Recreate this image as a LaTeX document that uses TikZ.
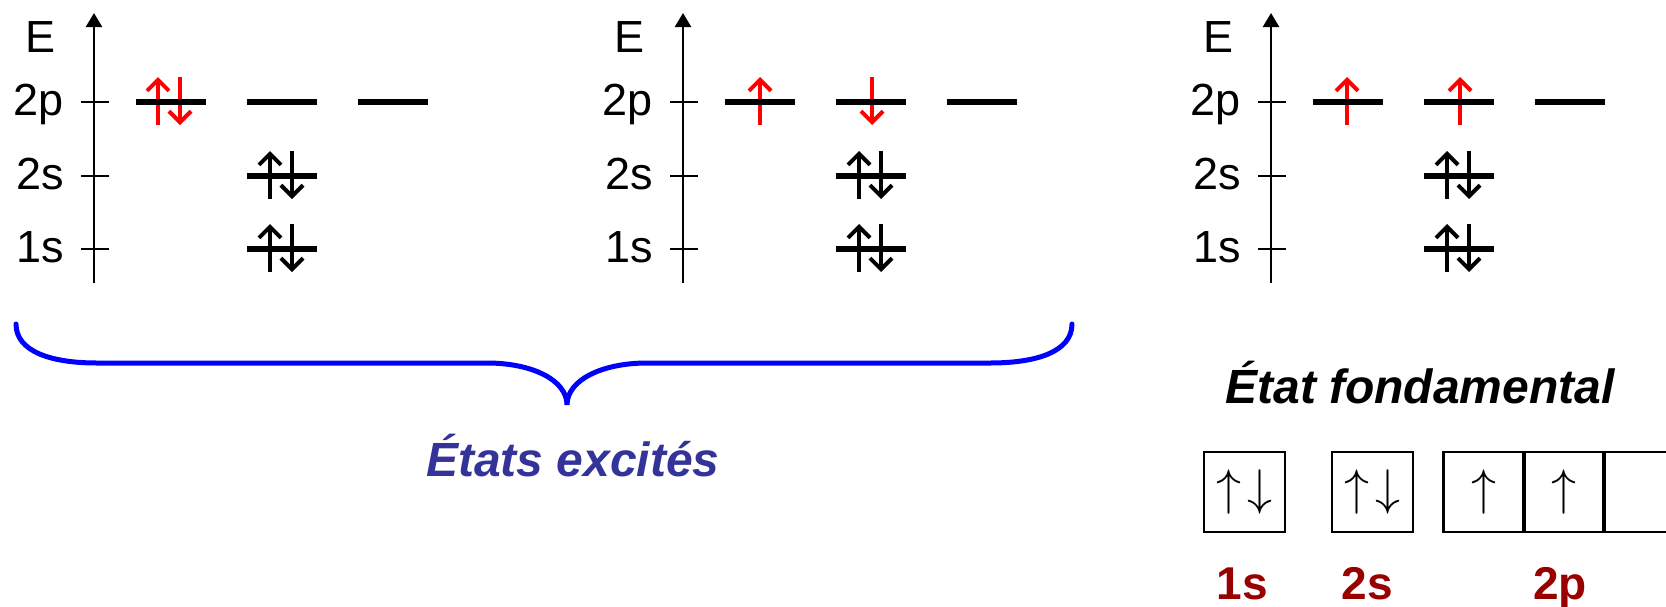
\RequirePackage{fix-cm}
\documentclass[tikz,border=0pt]{standalone}
\usepackage{fontspec}
\setmainfont{Liberation Sans}
\usetikzlibrary{arrows.meta}
\definecolor{braceblue}{RGB}{0,0,255}
\definecolor{textblue}{RGB}{51,51,153}
\definecolor{darkred}{RGB}{153,0,0}
\definecolor{spinred}{RGB}{255,0,0}
\begin{document}
\begin{tikzpicture}[x=1pt,y=-1pt,
  axisline/.style={line width=2.5pt,-{Triangle[length=14pt,width=16pt]}},
  tickline/.style={line width=2.5pt},
  levelline/.style={line width=6pt},
  spinarrow/.style={line width=4pt,-{Straight Barb[length=11pt,width=22pt]}},
  axlabel/.style={font=\fontsize{45}{54}\selectfont, inner sep=0pt, anchor=base east},
  elabel/.style={font=\fontsize{45}{54}\selectfont, inner sep=0pt, anchor=base},
  title/.style={font=\fontsize{48}{56}\selectfont\bfseries\itshape, inner sep=0pt, anchor=base},
  obox/.style={draw, line width=2.5pt, minimum width=81pt, minimum height=80pt, inner sep=0pt, font=\fontsize{50}{56}\selectfont},
  orblabel/.style={font=\fontsize{46}{54}\selectfont\bfseries, text=darkred, inner sep=0pt, anchor=base},
  bracestyle/.style={draw=braceblue, line width=5pt, line cap=round}
]
\useasboundingbox (0,0) rectangle (1666,606);

\foreach \d/\ox in {1/0,2/589,3/1177}{
  \begin{scope}[xshift=\ox pt]
    % axis
    \coordinate (ax\d b) at (94,283);
    \coordinate (ax\d t) at (94,13);
    \draw[axisline] (ax\d b) -- (ax\d t);
    \node[elabel] (E\d) at (41,52) {E};
    \foreach \n/\L in {2p/102,2s/176,1s/249}{
      \coordinate (tk\d\n a) at (81,\L);
      \coordinate (tk\d\n b) at (109,\L);
      \draw[tickline] (tk\d\n a) -- (tk\d\n b);
      \node[axlabel] (lab\d\n) at (64,\L+13) {\n};
    }
    % black paired spins on 2s and 1s
    \foreach \n/\L in {2s/176,1s/249}{
      \coordinate (su\d\n a) at (270,\L+23);
      \coordinate (su\d\n b) at (270,\L-25);
      \coordinate (sd\d\n a) at (292,\L-25);
      \coordinate (sd\d\n b) at (292,\L+23);
      \draw[spinarrow] (su\d\n a) -- (su\d\n b);
      \draw[spinarrow] (sd\d\n a) -- (sd\d\n b);
    }
  \end{scope}
}

% red spins
% diagram 1 : pair on first 2p level
\coordinate (r1ua) at (158,125); \coordinate (r1ub) at (158,77);
\coordinate (r1da) at (180,77);  \coordinate (r1db) at (180,125);
\draw[spinarrow,spinred] (r1ua) -- (r1ub);
\draw[spinarrow,spinred] (r1da) -- (r1db);
% diagram 2
\coordinate (r2ua) at (760,125); \coordinate (r2ub) at (760,77);
\coordinate (r2da) at (872,77);  \coordinate (r2db) at (872,125);
\draw[spinarrow,spinred] (r2ua) -- (r2ub);
\draw[spinarrow,spinred] (r2da) -- (r2db);
% diagram 3
\coordinate (r3ua) at (1347,125); \coordinate (r3ub) at (1347,77);
\coordinate (r3va) at (1460,125); \coordinate (r3vb) at (1460,77);
\draw[spinarrow,spinred] (r3ua) -- (r3ub);
\draw[spinarrow,spinred] (r3va) -- (r3vb);

% levels (drawn on top of spins)
\foreach \d/\ox in {1/0,2/589,3/1177}{
  \begin{scope}[xshift=\ox pt]
    \foreach \i/\xa/\xb in {1/136/206,2/247/317,3/358/428}{
      \coordinate (lv\d p\i a) at (\xa,102);
      \coordinate (lv\d p\i b) at (\xb,102);
      \draw[levelline] (lv\d p\i a) -- (lv\d p\i b);
    }
    \coordinate (lv\d sa) at (247,176); \coordinate (lv\d sb) at (317,176);
    \draw[levelline] (lv\d sa) -- (lv\d sb);
    \coordinate (lv\d ka) at (247,249); \coordinate (lv\d kb) at (317,249);
    \draw[levelline] (lv\d ka) -- (lv\d kb);
  \end{scope}
}

% brace
\coordinate (brl) at (16,324);
\coordinate (brr) at (1072,324);
\coordinate (brtip) at (567,405);
\draw[bracestyle] (brl) .. controls (16,352) and (52,363) .. (97,363)
  -- (487,363) .. controls (532,363) and (567,380) .. (brtip)
  .. controls (567,380) and (602,363) .. (647,363)
  -- (990,363) .. controls (1036,363) and (1072,352) .. (brr);

\node[title, text=textblue] (excites) at (573,476) {États excités};
\node[title] (fond) at (1420,403) {État fondamental};

% orbital boxes
\node[obox] (b1s) at (1244.5,492) {$\uparrow\mkern2mu\downarrow$};
\node[obox] (b2s) at (1372.5,492) {$\uparrow\mkern2mu\downarrow$};
\node[obox] (b2pa) at (1484,492) {$\uparrow$};
\node[obox] (b2pb) at (1564,492) {$\uparrow$};
\begin{scope}
  \clip (0,0) rectangle (1666,606);
  \node[obox] (b2pc) at (1644,492) {};
\end{scope}

\node[orblabel] (l1s) at (1242,599) {1s};
\node[orblabel] (l2s) at (1367,599) {2s};
\node[orblabel] (l2p) at (1560,599) {2p};
\end{tikzpicture}
\end{document}
